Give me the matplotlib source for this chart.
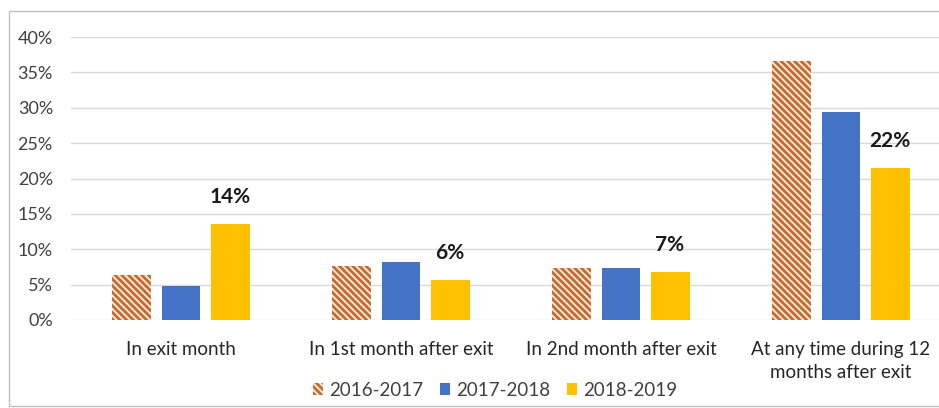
#!/usr/bin/env python3
"""Share of exits with a re-entry, by period after exit and by year."""
import matplotlib
matplotlib.use("Agg")
import matplotlib.pyplot as plt  # noqa: E402
import numpy as np  # noqa: E402
from matplotlib.patches import Rectangle, Patch  # noqa: E402

categories = ["In exit month", "In 1st month after exit",
              "In 2nd month after exit",
              "At any time during 12\nmonths after exit"]
years = ["2016-2017", "2017-2018", "2018-2019"]
vals_2016 = [6.4, 7.6, 7.3, 36.6]
vals_2017 = [4.8, 8.2, 7.3, 29.4]
vals_2018 = [13.6, 5.7, 6.8, 21.5]
labels_2018 = ["14%", "6%", "7%", "22%"]
yticks = [0, 5, 10, 15, 20, 25, 30, 35, 40]

HATCH_FG = "#c46a2e"
HATCH_BG = "#fce9da"
BLUE = "#4472c4"
GOLD = "#ffc000"

plt.rcParams["font.family"] = ["Lato", "DejaVu Sans"]
plt.rcParams["hatch.linewidth"] = 2.0
plt.rcParams["hatch.color"] = HATCH_FG

fig = plt.figure(figsize=(9.39, 4.08), dpi=100)
ax = fig.add_axes([71 / 939, 88 / 408, 868 / 939, 283 / 408])

x = np.arange(len(categories))
step, w = 0.223, 0.177
ax.bar(x - step, vals_2016, w, color=HATCH_BG, edgecolor=HATCH_FG,
       hatch="\\" * 5, linewidth=0, zorder=3)
ax.bar(x, vals_2017, w, color=BLUE, zorder=3)
ax.bar(x + step, vals_2018, w, color=GOLD, zorder=3)
for xi, v, lab in zip(x, vals_2018, labels_2018):
    ax.annotate(lab, (xi + step, v), xytext=(0, 12), textcoords="offset points",
                ha="center", va="bottom", fontsize=15, fontweight="bold",
                color="#1a1a1a")

ax.set_xlim(-0.5, 868 / 220 - 0.5)
ax.set_ylim(0, 40)
ax.set_yticks(yticks)
ax.set_yticklabels([f"{t}%" for t in yticks])
ax.set_xticks(x)
ax.set_xticklabels(categories, linespacing=1.45)
ax.tick_params(axis="y", length=0, pad=13, labelsize=13, labelcolor="#404040")
ax.tick_params(axis="x", length=0, pad=15, labelsize=13.5, labelcolor="#262626")
ax.grid(axis="y", color="#d9d9d9", lw=1, zorder=0)
for s in ax.spines.values():
    s.set_visible(False)

handles = [Patch(facecolor=HATCH_BG, edgecolor=HATCH_FG, hatch="\\" * 5, lw=0),
           Patch(facecolor=BLUE), Patch(facecolor=GOLD)]
fig.legend(handles, years, loc="center", bbox_to_anchor=(495 / 939, 1 - 390 / 408),
           ncol=3, frameon=False, fontsize=13.5, handlelength=0.55,
           handleheight=0.55, handletextpad=0.3, columnspacing=0.9,
           labelcolor="#404040")

# chart frame (right side runs off the crop)
fig.patches.append(Rectangle((9 / 939, 2 / 408), 1.0, 395 / 408,
                             transform=fig.transFigure, fill=False,
                             edgecolor="#bfbfbf", lw=1))

fig.savefig("out.png", dpi=100)
